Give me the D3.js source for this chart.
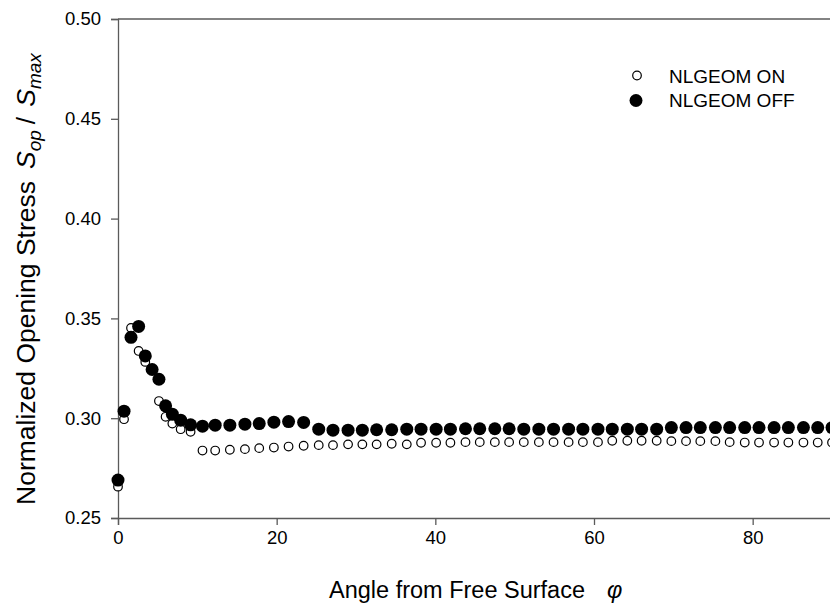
<html>
<head>
<script src="https://d3js.org/d3.v7.min.js"></script>
<style>
  body { margin: 0; background: #fff; }
  text { font-family: "Liberation Sans", Arial, sans-serif; fill: #000; }
</style>
</head>
<body>
<div id="chart"><svg width="830" height="606"></svg></div>
<script>
// angle from free surface (deg), shared by both runs
var angles = [0, 0.76, 1.64, 2.6, 3.44, 4.3, 5.16, 6.0, 6.85, 7.9, 9.15, 10.65, 12.25, 14.1, 16.0, 17.8, 19.65, 21.5,
  23.4, 25.3, 27.1, 29.0, 30.8, 32.6, 34.5, 36.4, 38.2, 40.1, 41.9, 43.8, 45.6, 47.5, 49.3,
  51.15, 53.05, 54.9, 56.8, 58.6, 60.5, 62.3, 64.2, 66.0, 67.9, 69.75, 71.6, 73.4, 75.3, 77.1, 79.0, 80.8, 82.7, 84.5, 86.4, 88.2, 90.0]

var nlgeomOn = [0.2657, 0.2995, 0.3452, 0.3337, 0.3282, 0.3245, 0.3086, 0.3007, 0.2973, 0.2945, 0.2932, 0.2838, 0.2838, 0.2842, 0.2845, 0.2850, 0.2853, 0.2858,
  0.2862, 0.2865, 0.2865, 0.2869, 0.2869, 0.2869, 0.2872, 0.2869, 0.2877, 0.2877, 0.2877, 0.2880, 0.2880, 0.2880, 0.2880,
  0.2880, 0.2880, 0.2880, 0.2880, 0.2880, 0.2880, 0.2887, 0.2887, 0.2887, 0.2887, 0.2885, 0.2885, 0.2885, 0.2885, 0.2880, 0.2878, 0.2878, 0.2878, 0.2878, 0.2878, 0.2878, 0.2878]

var nlgeomOff = [0.2690, 0.3035, 0.3405, 0.3460, 0.3312, 0.3244, 0.3195, 0.3062, 0.3020, 0.2990, 0.2967, 0.2960, 0.2965, 0.2965, 0.2970, 0.2973, 0.2980, 0.2983,
  0.2979, 0.2945, 0.2940, 0.2940, 0.2940, 0.2942, 0.2942, 0.2945, 0.2945, 0.2945, 0.2945, 0.2947, 0.2947, 0.2947, 0.2947,
  0.2945, 0.2945, 0.2945, 0.2945, 0.2945, 0.2945, 0.2945, 0.2945, 0.2945, 0.2945, 0.2953, 0.2953, 0.2953, 0.2953, 0.2953, 0.2953, 0.2953, 0.2953, 0.2953, 0.2953, 0.2953, 0.2953]

var xTicks = [0, 20, 40, 60, 80]
var yTicks = [0.25, 0.30, 0.35, 0.40, 0.45, 0.50]

var svg = d3.select('#chart svg')

var x = d3.scaleLinear().domain([0, 90]).range([118, 832])
var y = d3.scaleLinear().domain([0.25, 0.50]).range([518, 19])

var axisColor = '#5a5a5a'

// frame: top line (right side runs off the picture)
svg.append('line')
  .attr('x1', 118).attr('x2', 830)
  .attr('y1', y(0.50)).attr('y2', y(0.50))
  .attr('stroke', axisColor).attr('stroke-width', 1.3)

var xAxis = svg.append('g')
  .attr('transform', 'translate(0,518)')
  .call(d3.axisBottom(x).tickValues(xTicks).tickFormat(d3.format('d')).tickSizeOuter(0).tickSize(7).tickPadding(6))
var yAxis = svg.append('g')
  .attr('transform', 'translate(118,0)')
  .call(d3.axisLeft(y).tickValues(yTicks).tickFormat(d3.format('.2f')).tickSizeOuter(0).tickSize(7).tickPadding(10))

;[xAxis, yAxis].forEach(function(g) {
  g.select('.domain').attr('stroke', axisColor).attr('stroke-width', 1.3)
  g.selectAll('.tick line').attr('stroke', axisColor).attr('stroke-width', 1.3)
  g.selectAll('.tick text').style('font-size', '18.5px').style('font-family', '"Liberation Sans", Arial, sans-serif').attr('fill', '#000')
})

// open circles first, filled on top
var onData = angles.map(function(a, i) { return {a: a, v: nlgeomOn[i]} })
var offData = angles.map(function(a, i) { return {a: a, v: nlgeomOff[i]} })

svg.append('g').selectAll('circle')
  .data(onData)
  .enter().append('circle')
  .attr('cx', function(d) { return x(d.a) })
  .attr('cy', function(d) { return y(d.v) })
  .attr('r', 4.3)
  .attr('fill', '#fff')
  .attr('stroke', '#000')
  .attr('stroke-width', 1.2)

svg.append('g').selectAll('circle')
  .data(offData)
  .enter().append('circle')
  .attr('cx', function(d) { return x(d.a) })
  .attr('cy', function(d) { return y(d.v) })
  .attr('r', 6.5)
  .attr('fill', '#000')

// legend
svg.append('circle').attr('cx', 637).attr('cy', 75.5).attr('r', 4.3)
  .attr('fill', '#fff').attr('stroke', '#000').attr('stroke-width', 1.2)
svg.append('circle').attr('cx', 636).attr('cy', 100.5).attr('r', 6.5).attr('fill', '#000')
svg.append('text').attr('x', 669).attr('y', 82.5).style('font-size', '19px').text('NLGEOM ON')
svg.append('text').attr('x', 669).attr('y', 106.5).style('font-size', '19px').text('NLGEOM OFF')

// x title
var xt = svg.append('text').attr('x', 329).attr('y', 598).style('font-size', '23.5px')
xt.append('tspan').text('Angle from Free Surface')
xt.append('tspan').attr('dx', 22).style('font-style', 'italic').text('\u03c6')

// y title (rotated)
var yt = svg.append('text')
  .attr('transform', 'translate(35,505) rotate(-90)')
  .style('font-size', '26.5px')
yt.append('tspan').text('Normalized Opening Stress')
yt.append('tspan').attr('dx', 12).style('font-style', 'italic').text('S')
yt.append('tspan').attr('dy', 6).style('font-style', 'italic').style('font-size', '19px').text('op')
yt.append('tspan').attr('dy', -6).attr('dx', 6).text('/')
yt.append('tspan').attr('dx', 10).style('font-style', 'italic').text('S')
yt.append('tspan').attr('dy', 6).style('font-style', 'italic').style('font-size', '19px').text('max')
</script>
</body>
</html>
